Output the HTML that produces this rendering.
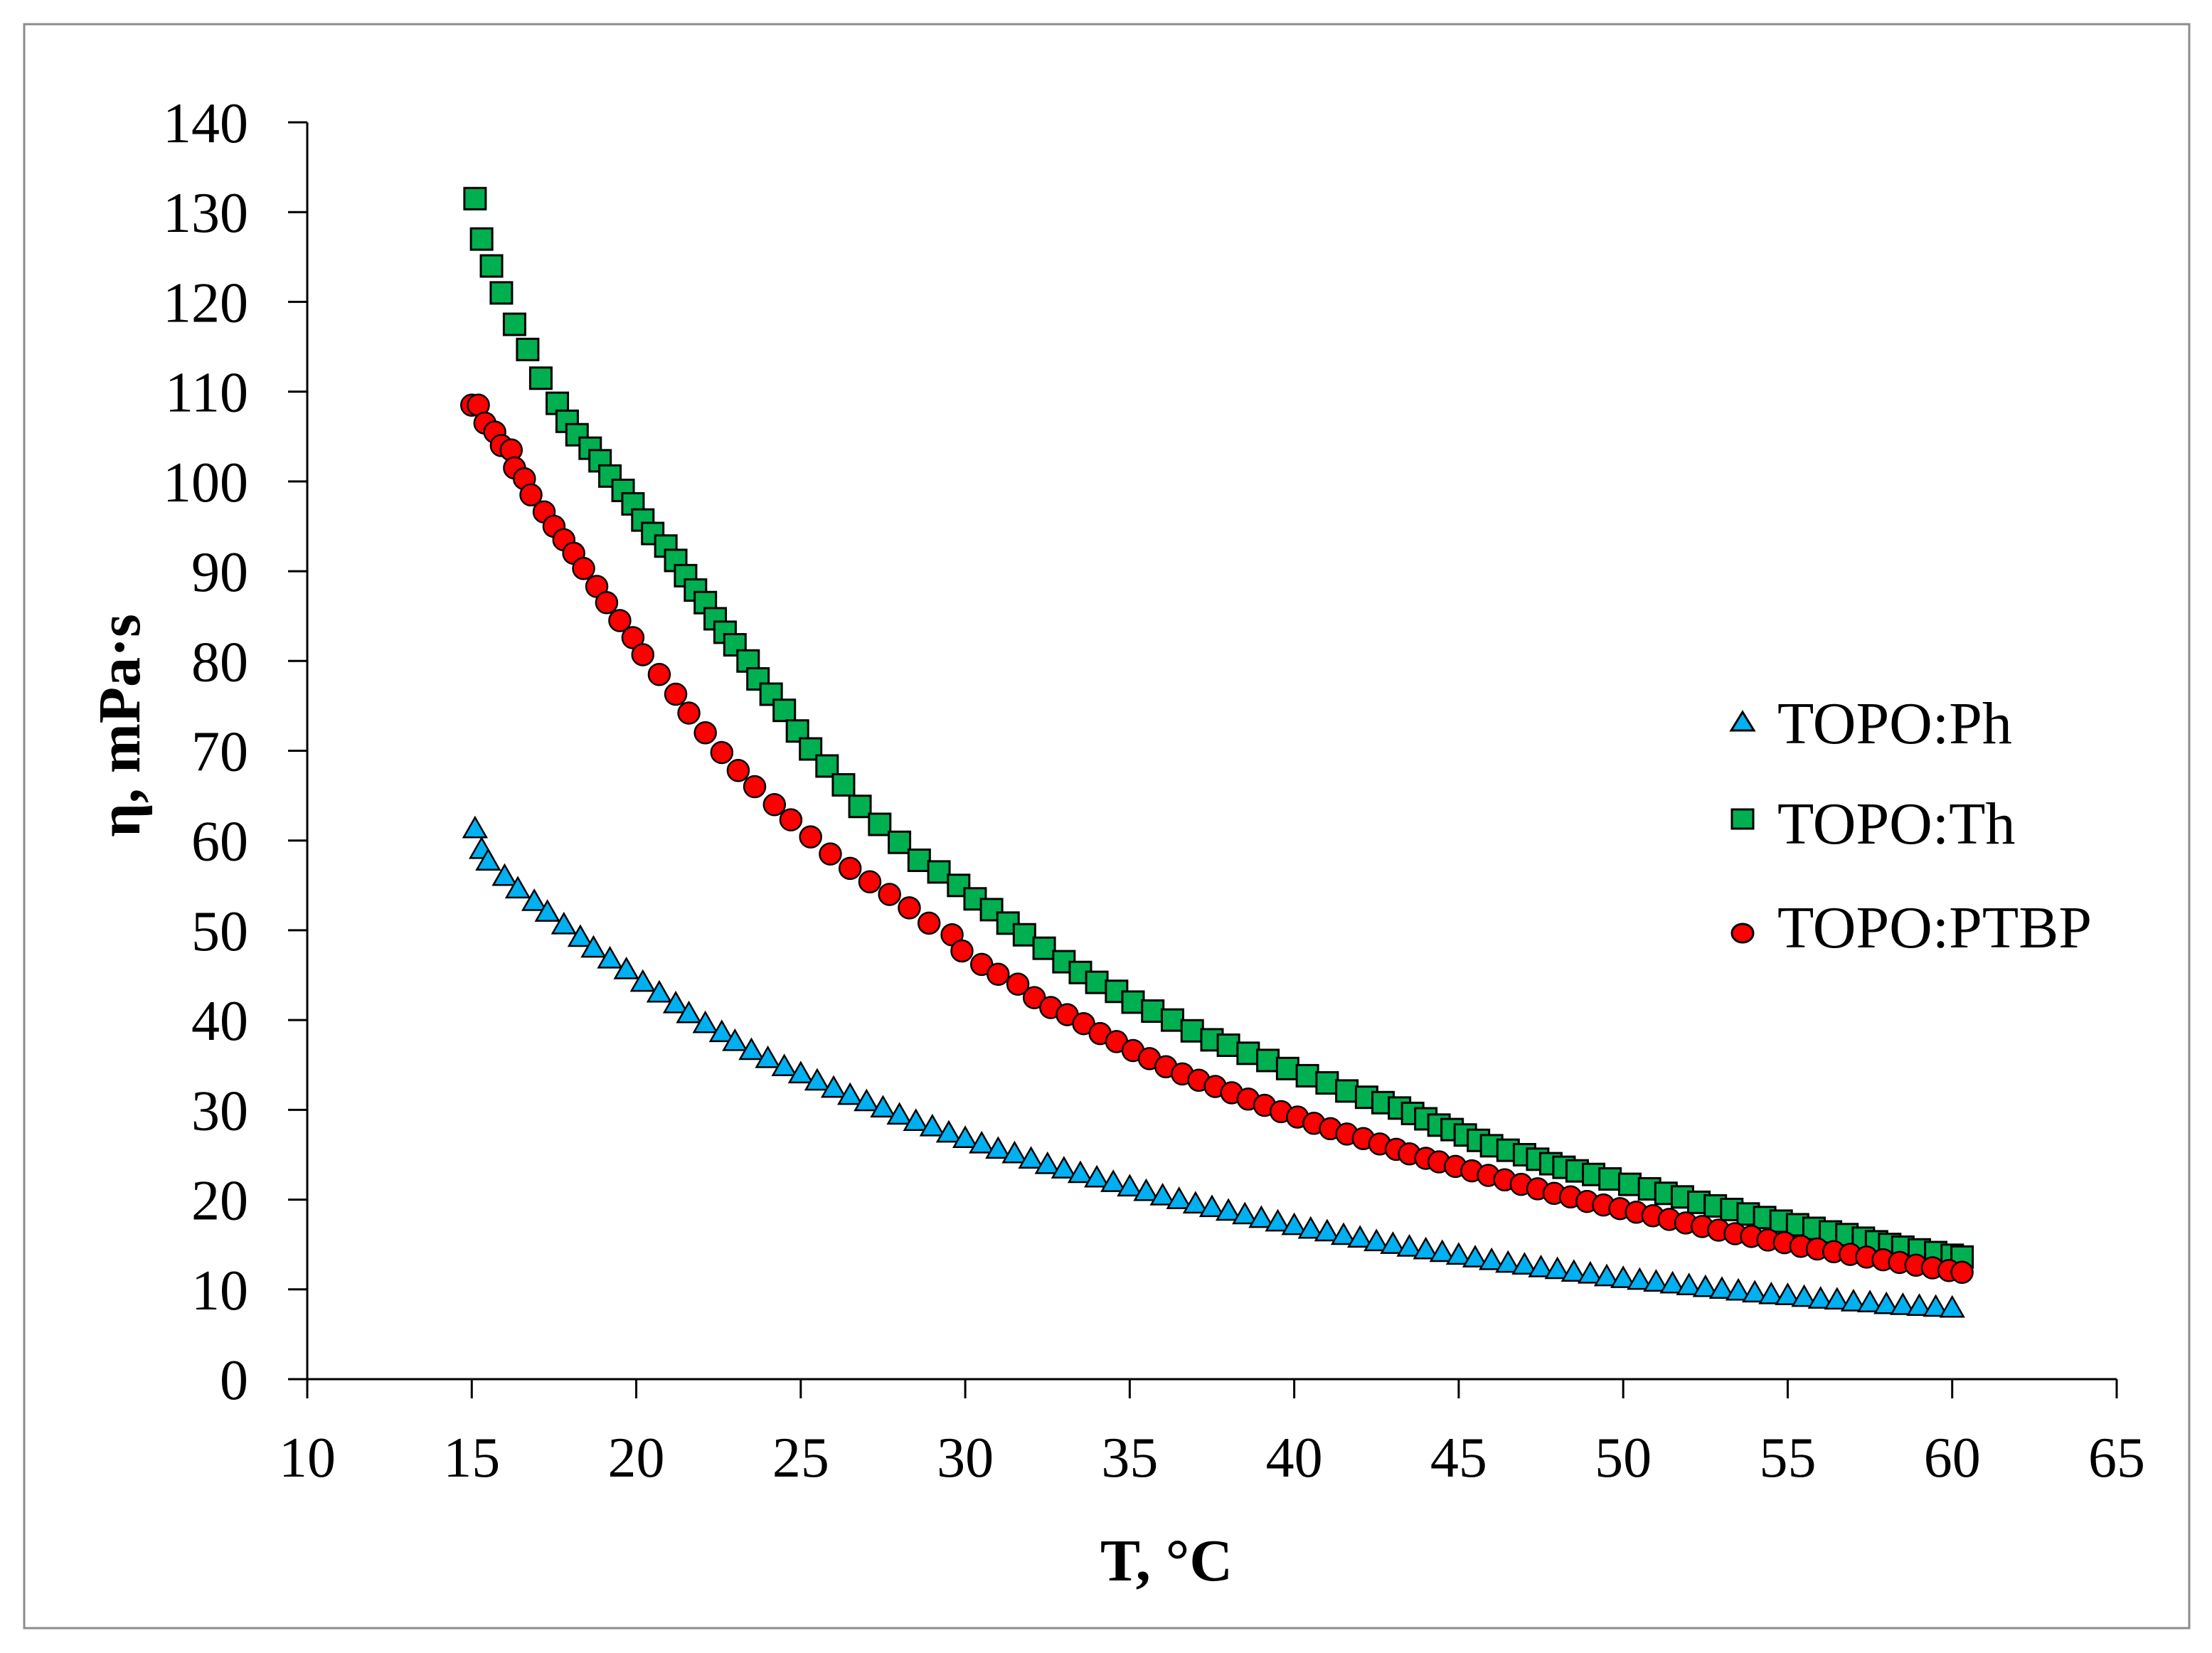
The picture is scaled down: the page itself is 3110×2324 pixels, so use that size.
<!DOCTYPE html>
<html><head><meta charset="utf-8"><style>
html,body{margin:0;padding:0;background:#fff}
svg{display:block}
text{font-family:"Liberation Serif","DejaVu Serif",serif;fill:#000}
</style></head><body>
<svg id="chart" width="3110" height="2324" viewBox="0 0 3110 2324" xmlns="http://www.w3.org/2000/svg">
<rect x="34" y="34" width="3044" height="2255" fill="#fff" stroke="#8c8c8c" stroke-width="3"/>
<g id="axes"></g>
<g id="marks"></g>
<text x="1640" y="2222" font-size="84" font-weight="bold" text-anchor="middle">T, °C</text>
<text transform="translate(196,1020) rotate(-90)" font-size="84" font-weight="bold" text-anchor="middle">η, mPa·s</text>
<g>
  <polygon points="2450,1001 2466,1027 2434,1027" fill="#00b0f0" stroke="#000" stroke-width="3"/>
  <text x="2499" y="1045" font-size="84">TOPO:Ph</text>
  <rect x="2435" y="1138" width="30" height="27" fill="#00b050" stroke="#000" stroke-width="3"/>
  <text x="2499" y="1186" font-size="84">TOPO:Th</text>
  <ellipse cx="2450" cy="1312" rx="15" ry="13" fill="#ff0000" stroke="#000" stroke-width="3"/>
  <text x="2499" y="1332" font-size="84">TOPO:PTBP</text>
</g>
</svg>
<script>
const xTicks = [10,15,20,25,30,35,40,45,50,55,60,65];
const yTicks = [0,10,20,30,40,50,60,70,80,90,100,110,120,130,140];
const thT = [15.1,15.3,15.6,15.9,16.3,16.7,17.1,17.6,17.9,18.2,18.6,18.9,19.2,19.6,19.9,20.2,20.5,20.9,21.2,21.5,21.8,22.1,22.4,22.7,23.0,23.4,23.7,24.1,24.5,24.9,25.3,25.8,26.3,26.8,27.4,28.0,28.6,29.2,29.8,30.3,30.8,31.3,31.8,32.4,33.0,33.5,34.0,34.6,35.1,35.7,36.3,36.9,37.5,38.0,38.6,39.2,39.8,40.4,41.0,41.6,42.2,42.7,43.2,43.6,44.0,44.4,44.8,45.2,45.6,46.0,46.5,47.0,47.4,47.8,48.2,48.6,49.1,49.6,50.2,50.8,51.3,51.8,52.3,52.8,53.3,53.8,54.3,54.8,55.3,55.8,56.3,56.8,57.3,57.7,58.1,58.5,59.0,59.5,60.0,60.3];
const thEta = [131.5,127,124,121,117.5,114.7,111.5,108.7,106.7,105.2,103.7,102.3,100.6,99,97.5,95.7,94.2,92.8,91.2,89.5,87.9,86.5,84.7,83.2,81.8,80,78,76.3,74.5,72.2,70.2,68.3,66.2,63.8,61.8,59.8,57.8,56.5,55,53.5,52.3,50.8,49.5,48,46.5,45.3,44.2,43.2,42,41,40,38.8,37.8,37.2,36.3,35.5,34.6,33.8,33,32.1,31.4,30.8,30.2,29.6,29,28.3,27.8,27.2,26.6,26,25.5,25,24.5,24,23.6,23.2,22.8,22.3,21.7,21.2,20.7,20.3,19.7,19.3,18.9,18.4,18,17.6,17.2,16.8,16.4,16.1,15.7,15.3,15,14.7,14.4,14.1,13.8,13.6];
const ptbpT = [15.0,15.2,15.4,15.7,15.9,16.2,16.3,16.6,16.8,17.2,17.5,17.8,18.1,18.4,18.8,19.1,19.5,19.9,20.2,20.7,21.2,21.6,22.1,22.6,23.1,23.6,24.2,24.7,25.3,25.9,26.5,27.1,27.7,28.3,28.9,29.6,29.9,30.5,31.0,31.6,32.1,32.6,33.1,33.6,34.1,34.6,35.1,35.6,36.1,36.6,37.1,37.6,38.1,38.6,39.1,39.6,40.1,40.6,41.1,41.6,42.1,42.6,43.1,43.5,44.0,44.4,44.9,45.4,45.9,46.4,46.9,47.4,47.9,48.4,48.9,49.4,49.9,50.4,50.9,51.4,51.9,52.4,52.9,53.4,53.9,54.4,54.9,55.4,55.9,56.4,56.9,57.4,57.9,58.4,58.9,59.4,59.9,60.3];
const ptbpEta = [108.5,108.5,106.5,105.5,104,103.5,101.5,100.3,98.5,96.6,95,93.5,92,90.3,88.3,86.5,84.5,82.6,80.7,78.5,76.3,74.2,72,69.8,67.8,66,64,62.3,60.4,58.5,56.9,55.4,54,52.5,50.8,49.5,47.7,46.2,45.1,44,42.5,41.4,40.6,39.6,38.5,37.6,36.6,35.7,34.8,34,33.3,32.6,31.9,31.2,30.5,29.8,29.2,28.5,27.9,27.3,26.8,26.2,25.6,25.1,24.6,24.2,23.7,23.2,22.7,22.2,21.7,21.2,20.7,20.3,19.8,19.4,19,18.6,18.2,17.8,17.4,17,16.6,16.2,15.9,15.5,15.2,14.8,14.5,14.2,13.9,13.6,13.3,13,12.7,12.4,12.1,11.9];
const phT = [15.1,15.3,15.5,16.0,16.4,16.9,17.3,17.8,18.3,18.7,19.2,19.7,20.2,20.7,21.2,21.6,22.1,22.6,23.0,23.5,24.0,24.5,25.0,25.5,26.0,26.5,27.0,27.5,28.0,28.5,29.0,29.5,30.0,30.5,31.0,31.5,32.0,32.5,33.0,33.5,34.0,34.5,35.0,35.5,36.0,36.5,37.0,37.5,38.0,38.5,39.0,39.5,40.0,40.5,41.0,41.5,42.0,42.5,43.0,43.5,44.0,44.5,45.0,45.5,46.0,46.5,47.0,47.5,48.0,48.5,49.0,49.5,50.0,50.5,51.0,51.5,52.0,52.5,53.0,53.5,54.0,54.5,55.0,55.5,56.0,56.5,57.0,57.5,58.0,58.5,59.0,59.5,60.0];
const phEta = [61.3,59,57.7,56,54.6,53.2,52,50.6,49.2,48,46.8,45.6,44.2,43,41.8,40.7,39.6,38.6,37.6,36.6,35.7,34.8,34,33.2,32.4,31.6,30.9,30.2,29.4,28.7,28.1,27.4,26.8,26.2,25.6,25.1,24.5,23.9,23.4,22.9,22.4,21.9,21.4,20.9,20.4,20,19.5,19.1,18.7,18.3,17.9,17.5,17.1,16.7,16.4,16,15.7,15.3,15,14.7,14.4,14.1,13.8,13.5,13.2,12.9,12.7,12.4,12.2,11.9,11.7,11.4,11.2,11,10.8,10.6,10.4,10.2,10,9.8,9.6,9.4,9.3,9.1,8.9,8.8,8.6,8.5,8.3,8.2,8.1,8,7.9];

const X0=432, X1=2976, Y0=1939, Y1=172;
function xs(v){return X0+(v-10)/(65-10)*(X1-X0);}
function ys(v){return Y0-(v-0)/(140-0)*(Y0-Y1);}
const NS="http://www.w3.org/2000/svg";
function mk(tag,attrs,parent){const e=document.createElementNS(NS,tag);for(const k in attrs)e.setAttribute(k,attrs[k]);parent.appendChild(e);return e;}
const axes=document.getElementById('axes'), marks=document.getElementById('marks');
let e;
e=mk('line',{x1:X0,y1:Y1,x2:X0,y2:Y0,stroke:'#000','stroke-width':3},axes);


e=mk('line',{x1:X0,y1:Y0,x2:X1,y2:Y0,stroke:'#000','stroke-width':3},axes);


yTicks.forEach(t=>{
  const y=ys(t);
  e=mk('line',{x1:X0-27,y1:y,x2:X0,y2:y,stroke:'#000','stroke-width':3},axes);
  
  
  e=mk('text',{x:349,y:y+28,'font-size':80,'text-anchor':'end'},axes);
  e.textContent=t;
  
  
});
xTicks.forEach(t=>{
  const x=xs(t);
  e=mk('line',{x1:x,y1:Y0,x2:x,y2:Y0+27,stroke:'#000','stroke-width':3},axes);
  
  
  e=mk('text',{x:x,y:2076,'font-size':80,'text-anchor':'middle'},axes);
  e.textContent=t;
  
  
});
phT.forEach((t,i)=>{
  const x=xs(t), y=ys(phEta[i]);
  e=mk('polygon',{points:`${x},${y-16} ${x+16},${y+12} ${x-16},${y+12}`,fill:'#00b0f0',stroke:'#000','stroke-width':2.5},marks);
  
  
});
thT.forEach((t,i)=>{
  const x=xs(t), y=ys(thEta[i]);
  e=mk('rect',{x:x-15,y:y-15,width:30,height:30,fill:'#00b050',stroke:'#000','stroke-width':3},marks);
  
  
});
ptbpT.forEach((t,i)=>{
  const x=xs(t), y=ys(ptbpEta[i]);
  e=mk('circle',{cx:x,cy:y,r:15,fill:'#ff0000',stroke:'#000','stroke-width':2.5},marks);
  
  
});
</script>
</body></html>
